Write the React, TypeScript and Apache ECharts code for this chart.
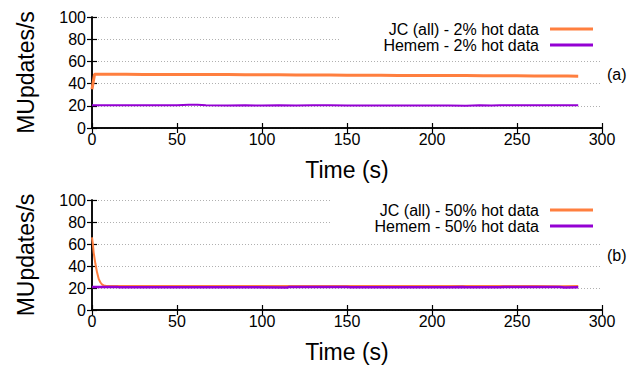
import React, { useEffect, useRef } from "react";
import * as echarts from "echarts";

// ---- Data ----
const jc2Time = [0, 1.5, 10, 20, 30, 40, 50, 60, 70, 80, 90, 100, 110, 120, 130, 140, 150, 160, 170, 180, 190, 200, 210, 220, 230, 240, 250, 260, 270, 280, 286];
const jc2Vals = [35, 48.4, 48.4, 48.4, 48.3, 48.3, 48.2, 48.2, 48.1, 48.1, 48.0, 48.0, 47.9, 47.8, 47.8, 47.7, 47.6, 47.6, 47.5, 47.4, 47.4, 47.3, 47.2, 47.2, 47.1, 47.0, 47.0, 46.9, 46.8, 46.8, 46.7];

const hemem2Time = [0, 10, 20, 30, 40, 50, 57, 62, 67, 80, 90, 100, 110, 120, 130, 140, 150, 160, 170, 180, 190, 200, 210, 220, 228, 235, 240, 250, 260, 270, 280, 286];
const hemem2Vals = [20.5, 20.6, 20.6, 20.5, 20.5, 20.6, 21.0, 21.0, 20.4, 20.3, 20.4, 20.3, 20.4, 20.3, 20.5, 20.5, 20.2, 20.2, 20.3, 20.2, 20.2, 20.3, 20.2, 20.1, 20.6, 20.2, 20.4, 20.4, 20.4, 20.4, 20.4, 20.4];

const jc50Time = [0, 0.5, 1, 2, 3, 4, 5, 6, 7, 8, 10, 20, 40, 60, 80, 100, 120, 140, 160, 180, 200, 220, 240, 260, 275, 286];
const jc50Vals = [66, 60, 52, 42, 34, 28, 25, 23, 22.3, 22.0, 21.8, 21.8, 21.8, 21.8, 21.8, 21.8, 21.8, 21.9, 21.8, 21.8, 21.8, 21.9, 21.8, 21.8, 21.7, 21.9];

const hemem50Time = [0, 10, 15, 16, 30, 50, 70, 90, 115, 116, 150, 152, 170, 190, 210, 218, 220, 240, 242, 260, 275, 278, 286];
const hemem50Vals = [20.8, 21.0, 21.0, 20.6, 20.6, 20.6, 20.6, 20.6, 20.5, 21.0, 21.0, 20.6, 20.6, 20.6, 20.6, 20.9, 20.6, 20.6, 20.9, 20.9, 20.9, 20.5, 20.6];

const xTicks = { min: 0, max: 300, interval: 50 };
const yTicks = { min: 0, max: 100, interval: 20 };

const names = {
  jc2: "JC (all) - 2% hot data",
  hemem2: "Hemem - 2% hot data",
  jc50: "JC (all) - 50% hot data",
  hemem50: "Hemem - 50% hot data",
};

const ORANGE = "#ff7f3f";
const PURPLE = "#9400d3";
const FONT = "Liberation Sans";

function pairs(t: number[], v: number[]) {
  return t.map((x, i) => [x, v[i]]);
}

export default function App() {
  const ref = useRef<HTMLDivElement>(null);
  useEffect(() => {
    if (!ref.current) return;
    const chart = echarts.init(ref.current, undefined, { renderer: "svg" });
    const axisLine = { show: true, lineStyle: { color: "#000", width: 1.5 } };
    const tickIn = { show: true, inside: true, length: 5, lineStyle: { color: "#000", width: 1.2 } };
    const labelStyle = { fontFamily: FONT, fontSize: 16, color: "#000" };

    const xAxes: any[] = [];
    const yAxes: any[] = [];
    [0, 1].forEach((g) => {
      xAxes.push({
        type: "value", gridIndex: g, position: "bottom", ...xTicks,
        axisLine, axisTick: tickIn,
        axisLabel: { ...labelStyle, margin: 3 },
        splitLine: { show: false },
        name: "Time (s)", nameLocation: "middle", nameGap: 30,
        nameTextStyle: { fontFamily: FONT, fontSize: 23, color: "#000" },
      });
      xAxes.push({
        type: "value", gridIndex: g, position: "top", ...xTicks,
        axisLine, axisTick: tickIn, axisLabel: { show: false }, splitLine: { show: false },
      });
      yAxes.push({
        type: "value", gridIndex: g, position: "left", ...yTicks,
        axisLine, axisTick: tickIn,
        axisLabel: { ...labelStyle, margin: 6 },
        splitLine: { show: true, lineStyle: { color: "#b0b0b0", width: 1, type: [1, 2] } },
        name: "MUpdates/s", nameLocation: "middle", nameGap: 55,
        nameTextStyle: { fontFamily: FONT, fontSize: 23, color: "#000" },
      });
      yAxes.push({
        type: "value", gridIndex: g, position: "right", ...yTicks,
        axisLine, axisTick: tickIn, axisLabel: { show: false }, splitLine: { show: false },
      });
    });

    const legendBase = {
      orient: "vertical", align: "right", right: 37, backgroundColor: "#fff",
      icon: "rect", itemWidth: 43, itemHeight: 3, itemGap: 0,
      selectedMode: false,
      textStyle: { fontFamily: FONT, fontSize: 16, color: "#000", lineHeight: 16, padding: [0, 6, 0, 0] },
    };

    chart.setOption({
      animation: false,
      grid: [
        { left: 92, right: 35, top: 17, height: 111 },
        { left: 92, right: 35, top: 200, height: 110 },
      ],
      xAxis: xAxes,
      yAxis: yAxes,
      legend: [
        { ...legendBase, top: 17, padding: [4, 7, 2, 44], data: [names.jc2, names.hemem2] },
        { ...legendBase, top: 200, padding: [2, 7, 2, 44], data: [names.jc50, names.hemem50] },
      ],
      graphic: [
        { type: "text", left: 607, top: 66, style: { text: "(a)", font: `16px "${FONT}"`, fill: "#000" } },
        { type: "text", left: 607, top: 247, style: { text: "(b)", font: `16px "${FONT}"`, fill: "#000" } },
      ],
      series: [
        { name: names.jc2, type: "line", xAxisIndex: 0, yAxisIndex: 0, data: pairs(jc2Time, jc2Vals), showSymbol: false, color: ORANGE, lineStyle: { width: 3, color: ORANGE } },
        { name: names.hemem2, type: "line", xAxisIndex: 0, yAxisIndex: 0, data: pairs(hemem2Time, hemem2Vals), showSymbol: false, color: PURPLE, lineStyle: { width: 2, color: PURPLE } },
        { name: names.jc50, type: "line", xAxisIndex: 2, yAxisIndex: 2, data: pairs(jc50Time, jc50Vals), showSymbol: false, color: ORANGE, lineStyle: { width: 2, color: ORANGE } },
        { name: names.hemem50, type: "line", xAxisIndex: 2, yAxisIndex: 2, data: pairs(hemem50Time, hemem50Vals), showSymbol: false, color: PURPLE, lineStyle: { width: 2.5, color: PURPLE } },
      ],
    });
    return () => chart.dispose();
  }, []);
  return <div ref={ref} style={{ position: "absolute", left: 0, top: 0, width: 637, height: 366, background: "#fff" }} />;
}
